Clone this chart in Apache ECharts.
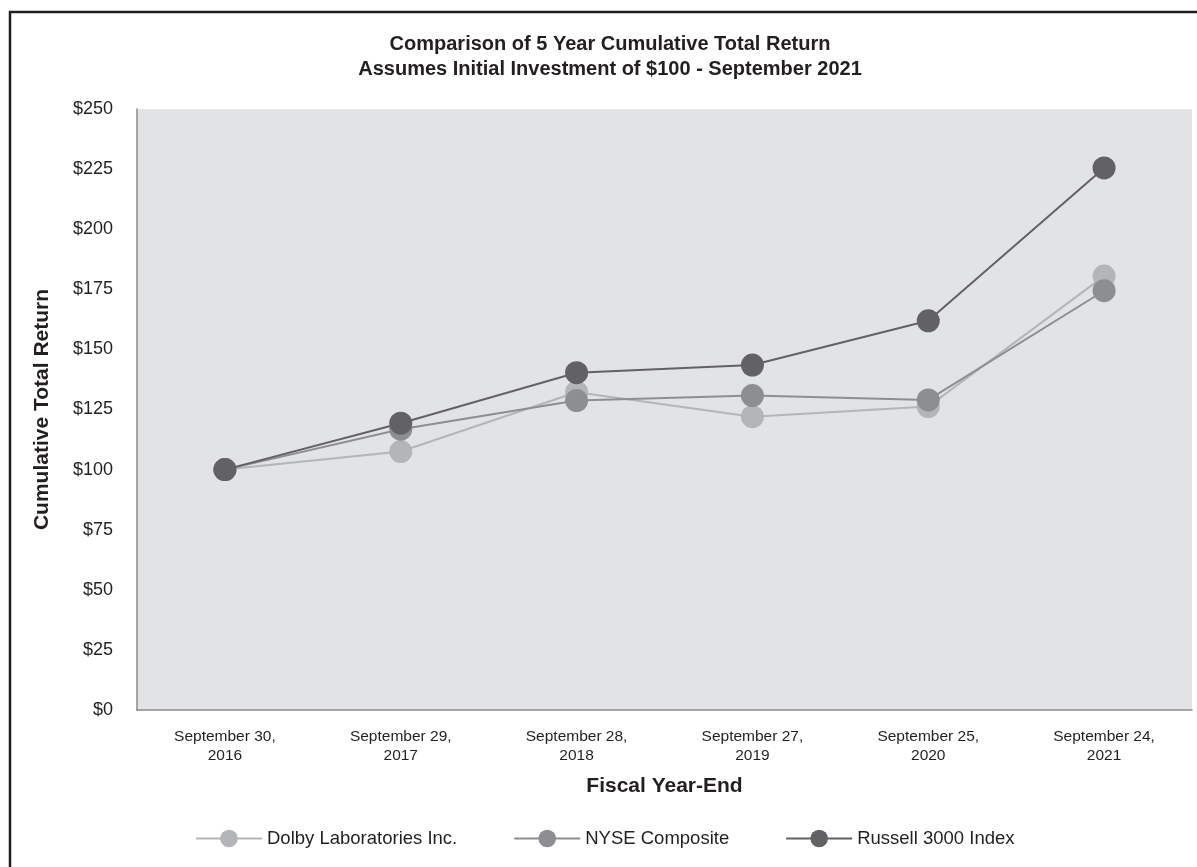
<!DOCTYPE html>
<html>
<head>
<meta charset="utf-8">
<script src="https://cdn.jsdelivr.net/npm/echarts@6/dist/echarts.min.js"></script>
<style>
html,body{margin:0;padding:0;background:#fff;}
#chart{width:1197px;height:867px;}
</style>
</head>
<body>
<div id="chart"></div>
<script>
var categories = ['September 30,\n2016','September 29,\n2017','September 28,\n2018','September 27,\n2019','September 25,\n2020','September 24,\n2021'];
var dolby = [100, 107.5, 132.2, 122.0, 126.2, 180.5];
var nyse = [100, 116.8, 128.7, 130.8, 129.0, 174.4];
var russell = [100, 119.3, 140.3, 143.5, 161.9, 225.5];
var yTicks = [0, 25, 50, 75, 100, 125, 150, 175, 200, 225, 250];

var FONT = '"Liberation Sans", Arial, sans-serif';
var TXT = '#231f20';
var chart = echarts.init(document.getElementById('chart'), null, {renderer:'canvas'});

function mk(name, data, color){
  return {
    name: name, type: 'line', data: data,
    symbol: 'circle', symbolSize: 23,
    lineStyle: {color: color, width: 2},
    itemStyle: {color: color},
    emphasis: {disabled: true},
    animation: false
  };
}

chart.setOption({
  backgroundColor: '#fff',
  animation: false,
  title: {
    text: 'Comparison of 5 Year Cumulative Total Return\nAssumes Initial Investment of $100 - September 2021',
    left: 605, top: 27, textAlign: 'center',
    textStyle: {fontFamily: FONT, fontSize: 20, fontWeight: 'bold', color: TXT, lineHeight: 25}
  },
  graphic: [{
    type: 'rect', shape: {x: 10, y: 12, width: 1400, height: 1000},
    style: {fill: 'none', stroke: '#231f20', lineWidth: 2.5}, silent: true
  }],
  grid: {left: 137, top: 109, right: 5, bottom: 157, show: true, backgroundColor: '#e2e3e5', borderWidth: 0},
  legend: {
    bottom: 14, left: 190, itemGap: 56,
    itemWidth: 66, itemHeight: 22,
    textStyle: {fontFamily: FONT, fontSize: 18.5, color: TXT},
    data: ['Dolby Laboratories Inc.', 'NYSE Composite', 'Russell 3000 Index']
  },
  xAxis: {
    type: 'category', data: categories, boundaryGap: true,
    name: 'Fiscal Year-End', nameLocation: 'middle', nameGap: 66,
    nameTextStyle: {fontFamily: FONT, fontSize: 21, fontWeight: 'bold', color: TXT},
    axisLine: {show: true, lineStyle: {color: '#8a8a8c', width: 1.5}},
    axisTick: {show: false},
    axisLabel: {fontFamily: FONT, fontSize: 15.5, color: TXT, margin: 17, lineHeight: 19, interval: 0},
    splitLine: {show: false}
  },
  yAxis: {
    type: 'value', min: yTicks[0], max: yTicks[yTicks.length-1], interval: 25,
    name: 'Cumulative Total Return', nameLocation: 'middle', nameGap: 84, nameRotate: 90,
    nameTextStyle: {fontFamily: FONT, fontSize: 21, fontWeight: 'bold', color: TXT},
    axisLine: {show: true, lineStyle: {color: '#8a8a8c', width: 1.5}},
    axisTick: {show: false},
    axisLabel: {fontFamily: FONT, fontSize: 18, color: TXT, margin: 24, formatter: function(v){return '$' + v;}},
    splitLine: {show: false}
  },
  series: [
    mk('Dolby Laboratories Inc.', dolby, '#b4b5b8'),
    mk('NYSE Composite', nyse, '#8d8e91'),
    mk('Russell 3000 Index', russell, '#626265')
  ]
});
</script>
</body>
</html>
